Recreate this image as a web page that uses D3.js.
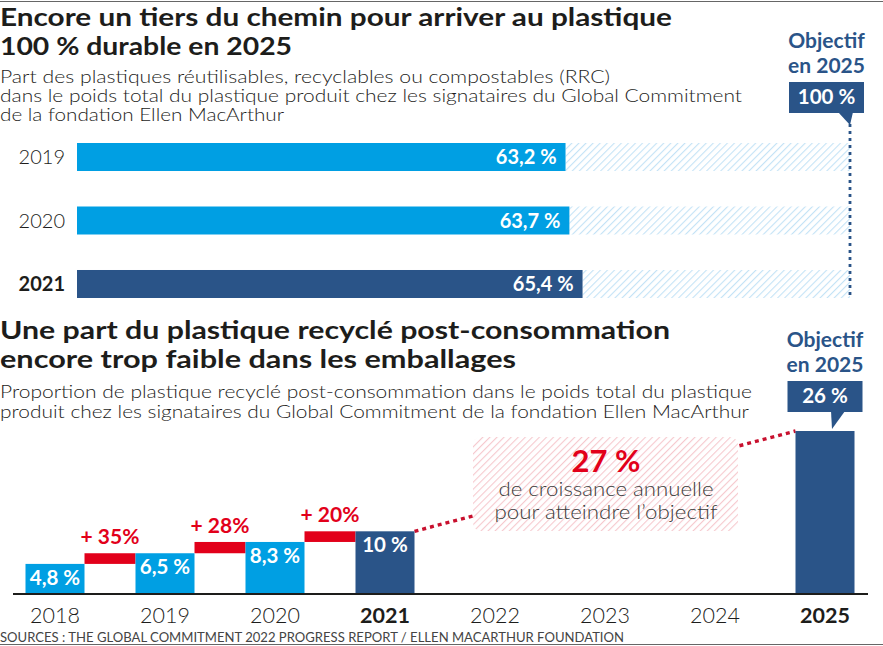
<!DOCTYPE html>
<html>
<head>
<meta charset="utf-8">
<script src="https://cdn.jsdelivr.net/npm/d3@7"></script>
<style>
  html, body { margin: 0; padding: 0; background: #fff; }
  svg { display: block; font-family: Lato, "Open Sans", sans-serif; }
</style>
</head>
<body>
<svg id="chart" width="883" height="646"></svg>
<script>
// ---------- DATA ----------
const rrcYears = ["2019", "2020", "2021"];
const rrcValues = [63.2, 63.7, 65.4];
const rrcLabels = ["63,2 %", "63,7 %", "65,4 %"];
const rrcTarget = 100;
const rrcTargetLabel = "100 %";

const pcrYears = ["2018", "2019", "2020", "2021", "2022", "2023", "2024", "2025"];
const pcrValues = [4.8, 6.5, 8.3, 10, null, null, null, 26];
const pcrLabels = ["4,8 %", "6,5 %", "8,3 %", "10 %", null, null, null, ""];
const growthLabels = ["+ 35%", "+ 28%", "+ 20%"];
const pcrTarget = 26;
const pcrTargetLabel = "26 %";
const boldYears = ["2021", "2025"];

const title1 = ["Encore un tiers du chemin pour arriver au plastique", "100 % durable en 2025"];
const sub1 = ["Part des plastiques réutilisables, recyclables ou compostables (RRC)",
  "dans le poids total du plastique produit chez les signataires du Global Commitment",
  "de la fondation Ellen MacArthur"];
const title2 = ["Une part du plastique recyclé post-consommation", "encore trop faible dans les emballages"];
const sub2 = ["Proportion de plastique recyclé post-consommation dans le poids total du plastique",
  "produit chez les signataires du Global Commitment de la fondation Ellen MacArthur"];
const annotation = ["27 %", "de croissance annuelle", "pour atteindre l’objectif"];
const source = "SOURCES : THE GLOBAL COMMITMENT 2022 PROGRESS REPORT / ELLEN MACARTHUR FOUNDATION";

// ---------- STYLE / LAYOUT ----------
const C = { light: "#009fe3", dark: "#2a5488", red: "#e2001a", text: "#1d1d1b", grey: "#3c3c3b" };
const widths = {
  title1: [672, 292], sub1: [610, 742, 284],
  title2: [670, 516], sub2: [752, 749]
};

const svg = d3.select("#chart");
const defs = svg.append("defs");
function hatch(id, color) {
  const p = defs.append("pattern").attr("id", id).attr("patternUnits", "userSpaceOnUse")
    .attr("width", 5).attr("height", 5).attr("patternTransform", "rotate(45)");
  p.append("rect").attr("width", 5).attr("height", 5).attr("fill", "#fff");
  p.append("line").attr("x1", 0).attr("y1", 0).attr("x2", 0).attr("y2", 5)
    .attr("stroke", color).attr("stroke-width", 2.2);
}
hatch("hblue", "#c4e3f6");
hatch("hpink", "#f6c9ce");

// frame lines
svg.append("line").attr("x1", 0).attr("x2", 883).attr("y1", 1.5).attr("y2", 1.5).attr("stroke", "#666").attr("stroke-width", 1);
svg.append("line").attr("x1", 0).attr("x2", 883).attr("y1", 644.5).attr("y2", 644.5).attr("stroke", "#666").attr("stroke-width", 1);

function textLines(lines, w, x, y0, dy, size, weight, color) {
  lines.forEach((t, i) => {
    svg.append("text").attr("x", x).attr("y", y0 + i * dy).text(t)
      .attr("font-size", size).attr("font-weight", weight).attr("fill", color)
      .attr("textLength", w[i]).attr("lengthAdjust", "spacingAndGlyphs");
  });
}
textLines(title1, widths.title1, 0, 26, 28.5, 25.5, 700, C.text);
textLines(sub1, widths.sub1, 0, 83, 19, 16.8, 300, C.text);
textLines(title2, widths.title2, 0, 339, 28.5, 25.5, 700, C.text);
textLines(sub2, widths.sub2, 0, 398, 19.5, 16.8, 300, C.text);

// ---------- TOP CHART ----------
const x1 = d3.scaleLinear().domain([0, rrcTarget]).range([77, 850]);
const y1 = d3.scaleBand().domain(rrcYears).range([143, 298]).paddingInner(0.559);

const g1 = svg.append("g");
g1.selectAll("rect.rest").data(rrcYears).join("rect")
  .attr("x", (d, i) => x1(rrcValues[i])).attr("y", d => y1(d))
  .attr("width", (d, i) => x1(rrcTarget) - x1(rrcValues[i])).attr("height", y1.bandwidth())
  .attr("fill", "url(#hblue)");
g1.selectAll("rect.val").data(rrcYears).join("rect")
  .attr("x", x1(0)).attr("y", d => y1(d))
  .attr("width", (d, i) => x1(rrcValues[i]) - x1(0)).attr("height", y1.bandwidth())
  .attr("fill", d => boldYears.includes(d) ? C.dark : C.light);
g1.selectAll("text.val").data(rrcYears).join("text")
  .attr("x", (d, i) => x1(rrcValues[i]) - 9).attr("y", d => y1(d) + y1.bandwidth() / 2 + 7)
  .attr("text-anchor", "end").attr("font-size", 20).attr("font-weight", 700).attr("fill", "#fff")
  .text((d, i) => rrcLabels[i]);
g1.selectAll("text.yr").data(rrcYears).join("text")
  .attr("x", 65).attr("y", d => y1(d) + y1.bandwidth() / 2 + 7)
  .attr("text-anchor", "end").attr("font-size", 20)
  .attr("font-weight", d => boldYears.includes(d) ? 700 : 300).attr("fill", C.text)
  .text(d => d);
g1.append("line").attr("x1", x1(rrcTarget)).attr("x2", x1(rrcTarget)).attr("y1", 124).attr("y2", 298)
  .attr("stroke", C.dark).attr("stroke-width", 2.8).attr("stroke-dasharray", "3,4");

function objectif(cx, yTop, boxTop, label, tip) {
  const g = svg.append("g");
  g.append("text").attr("x", cx).attr("y", yTop).attr("text-anchor", "middle")
    .attr("font-size", 21).attr("font-weight", 700).attr("fill", C.dark).text("Objectif");
  g.append("text").attr("x", cx).attr("y", yTop + 25).attr("text-anchor", "middle")
    .attr("font-size", 21).attr("font-weight", 700).attr("fill", C.dark).text("en 2025");
  const bw = 75, bh = 31, bx = cx - bw / 2;
  g.append("rect").attr("x", bx).attr("y", boxTop).attr("width", bw).attr("height", bh).attr("fill", C.dark);
  g.append("path").attr("d", `M${tip[0]},${boxTop + bh - 1} L${tip[1]},${boxTop + bh - 1} L${tip[2]},${tip[3]} Z`).attr("fill", C.dark);
  g.append("text").attr("x", cx).attr("y", boxTop + 22).attr("text-anchor", "middle")
    .attr("font-size", 20.5).attr("font-weight", 700).attr("fill", "#fff").text(label);
}
objectif(826.5, 48, 82, rrcTargetLabel, [838, 853, x1(rrcTarget), 125]);

// ---------- BOTTOM CHART ----------
const x2 = d3.scaleBand().domain(pcrYears).range([0, 880]).paddingInner(0.4636).paddingOuter(0.2318);
const y2 = d3.scaleLinear().domain([0, pcrTarget]).range([594, 431]);
const g2 = svg.append("g");
const bw2 = x2.bandwidth();
const known = pcrYears.map((d, i) => ({ year: d, v: pcrValues[i], label: pcrLabels[i] })).filter(d => d.v !== null);

const last = known[known.length - 2], tgt = known[known.length - 1];
g2.append("line")
  .attr("x1", x2(last.year) + bw2).attr("y1", y2(last.v))
  .attr("x2", x2(tgt.year)).attr("y2", y2(tgt.v))
  .attr("stroke", "#c8102e").attr("stroke-width", 3.4).attr("stroke-dasharray", "4,4");

growthLabels.forEach((lab, i) => {
  const a = pcrYears[i], b = pcrYears[i + 1];
  const xa = x2(a) + bw2, xb = x2(b);
  g2.append("rect").attr("x", xa).attr("y", y2(pcrValues[i + 1])).attr("width", xb - xa)
    .attr("height", y2(pcrValues[i]) - y2(pcrValues[i + 1])).attr("fill", C.red);
  g2.append("text").attr("x", (xa + xb) / 2).attr("y", y2(pcrValues[i + 1]) - 9)
    .attr("text-anchor", "middle").attr("font-size", 21).attr("font-weight", 700).attr("fill", C.red).text(lab);
});

g2.selectAll("rect.bar").data(known).join("rect")
  .attr("x", d => x2(d.year)).attr("y", d => y2(d.v)).attr("width", bw2).attr("height", d => y2(0) - y2(d.v))
  .attr("fill", d => boldYears.includes(d.year) ? C.dark : C.light);
g2.selectAll("text.bv").data(known.filter(d => d.label)).join("text")
  .attr("x", d => x2(d.year) + bw2 / 2).attr("y", d => y2(d.v) + 21)
  .attr("text-anchor", "middle").attr("font-size", 20.5).attr("font-weight", 700).attr("fill", "#fff")
  .text(d => d.label);

const ax = g2.append("g").attr("transform", `translate(0,${y2(0)})`)
  .call(d3.axisBottom(x2).tickSize(0).tickPadding(20));
ax.select(".domain").remove();
ax.append("line").attr("x1", 13).attr("x2", 868).attr("y1", 0).attr("y2", 0).attr("stroke", "#1d1d1b").attr("stroke-width", 2.2);
ax.selectAll(".tick text").attr("font-family", "Lato, sans-serif").attr("font-size", 21.5)
  .attr("fill", C.text).attr("font-weight", d => boldYears.includes(d) ? 700 : 300)
  .attr("dy", 0).attr("y", 29);

const ann = g2.append("g");
ann.append("rect").attr("x", 473).attr("y", 437).attr("width", 265).attr("height", 94).attr("rx", 8)
  .attr("fill", "url(#hpink)");
ann.append("text").attr("x", 606).attr("y", 472).attr("text-anchor", "middle")
  .attr("font-size", 31).attr("font-weight", 700).attr("fill", C.red).text(annotation[0]);
ann.append("text").attr("x", 606).attr("y", 496).attr("text-anchor", "middle")
  .attr("font-size", 20).attr("font-weight", 300).attr("fill", C.grey)
  .attr("textLength", 215).attr("lengthAdjust", "spacingAndGlyphs").text(annotation[1]);
ann.append("text").attr("x", 606).attr("y", 519).attr("text-anchor", "middle")
  .attr("font-size", 20).attr("font-weight", 300).attr("fill", C.grey)
  .attr("textLength", 223).attr("lengthAdjust", "spacingAndGlyphs").text(annotation[2]);

objectif(825, 347, 381, pcrTargetLabel, [831, 845, 832, 429]);

svg.append("text").attr("x", 0).attr("y", 642).attr("font-size", 13.5).attr("font-weight", 400)
  .attr("fill", "#444").attr("textLength", 624).attr("lengthAdjust", "spacingAndGlyphs").text(source);
</script>
</body>
</html>
